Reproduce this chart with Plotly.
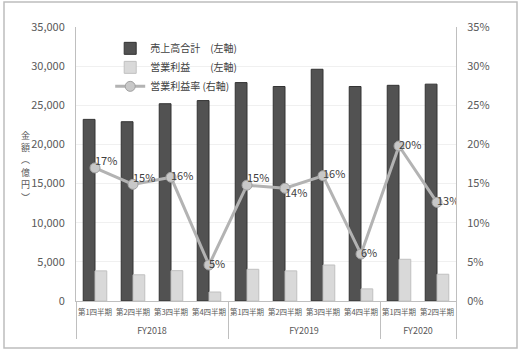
import plotly.graph_objects as go

fiscal_years = ["FY2018"] * 4 + ["FY2019"] * 4 + ["FY2020"] * 2
quarters = ["第1四半期", "第2四半期", "第3四半期", "第4四半期",
            "第1四半期", "第2四半期", "第3四半期", "第4四半期",
            "第1四半期", "第2四半期"]
sales = [23200, 22900, 25200, 25600, 27900, 27400, 29600, 27400, 27550, 27700]
op_profit = [3850, 3350, 3880, 1150, 4050, 3850, 4600, 1550, 5330, 3420]
op_margin = [17.0, 14.9, 15.8, 4.6, 14.8, 14.4, 16.0, 6.0, 19.8, 12.6]
margin_labels = ["17%", "15%", "16%", "5%", "15%", "14%", "16%", "6%", "20%", "13%"]
label_pos = ["top right", "top right", "middle right", "middle right", "top right",
             "bottom right", "middle right", "middle right", "middle right", "middle right"]
left_ticks = [0, 5000, 10000, 15000, 20000, 25000, 30000, 35000]
right_ticks = [0, 5, 10, 15, 20, 25, 30, 35]
right_tick_labels = ["0%", "5%", "10%", "15%", "20%", "25%", "30%", "35%"]
y_title_chars = ["金", "額", "︵", "億", "円", "︶"]

# category positions and fiscal-year groups
pos = list(range(len(quarters)))
groups = []
for i, fy in enumerate(fiscal_years):
    if not groups or groups[-1][0] != fy:
        groups.append([fy, i, i])
    else:
        groups[-1][2] = i
group_names = [g[0] for g in groups]
group_centers = [(g[1] + g[2]) / 2 for g in groups]
group_bounds = [groups[0][1] - 0.5] + [g[2] + 0.5 for g in groups]
xrange_ = [-0.5, len(quarters) - 0.5]

font_family = "Noto Sans CJK JP, Noto Sans, sans-serif"

fig = go.Figure()
fig.add_trace(go.Bar(
    x=pos, y=sales, name="売上高合計　(左軸)",
    marker=dict(color="#525252", line=dict(color="#333333", width=1)),
))
fig.add_trace(go.Bar(
    x=pos, y=op_profit, name="営業利益　　(左軸)",
    marker=dict(color="#d9d9d9", line=dict(color="#c0c0c0", width=1)),
))
fig.add_trace(go.Scatter(
    x=pos, y=op_margin, name="営業利益率 (右軸)", yaxis="y2",
    mode="lines+markers",
    line=dict(color="#b3b3b3", width=3),
    marker=dict(size=10, color="#c8c8c8", line=dict(color="#a0a0a0", width=1)),
))
fig.add_trace(go.Scatter(
    x=pos, y=op_margin, yaxis="y2", mode="text", showlegend=False,
    text=margin_labels, textposition=label_pos,
    textfont=dict(size=11, color="#404040", family=font_family),
    hoverinfo="skip",
))
# helper invisible traces so the extra x axes are drawn
fig.add_trace(go.Scatter(x=[None], y=[None], xaxis="x2", showlegend=False, hoverinfo="skip"))
fig.add_trace(go.Scatter(x=[None], y=[None], xaxis="x3", showlegend=False, hoverinfo="skip"))

annotations = []
for i, ch in enumerate(y_title_chars):
    annotations.append(dict(
        text=ch, xref="paper", yref="paper",
        x=(25 - 76) / 380, y=(301 - (135 + 12.4 * i)) / 274,
        xanchor="center", yanchor="middle", showarrow=False,
        font=dict(size=9, color="#595959"),
    ))

fig.update_layout(
    width=520, height=351,
    margin=dict(l=76, r=64, t=27, b=50),
    paper_bgcolor="white", plot_bgcolor="white",
    font=dict(family=font_family, color="#595959", size=11),
    barmode="group", bargap=0.38, bargroupgap=0.0,
    showlegend=True,
    legend=dict(x=0.09, y=0.975, xanchor="left", yanchor="top",
                bgcolor="rgba(0,0,0,0)", font=dict(size=10, color="#404040"),
                tracegroupgap=2),
    xaxis=dict(
        range=xrange_, tickvals=pos, ticktext=quarters, tickangle=0,
        automargin=False, showline=True, linecolor="#bfbfbf", linewidth=1,
        showgrid=False, zeroline=False, ticks="",
        tickfont=dict(size=7.5, color="#595959"), ticklabelstandoff=4,
    ),
    xaxis2=dict(
        range=xrange_, overlaying="x", anchor="y", side="bottom",
        tickvals=group_centers, ticktext=group_names, tickangle=0,
        automargin=False, showline=False, showgrid=False, zeroline=False,
        ticks="", tickfont=dict(size=9, color="#595959"), ticklabelstandoff=23,
    ),
    xaxis3=dict(
        range=xrange_, overlaying="x", anchor="y", side="bottom",
        tickvals=group_bounds, ticktext=[""] * len(group_bounds),
        automargin=False, showline=False, showgrid=False, zeroline=False,
        ticks="outside", ticklen=37, tickwidth=1, tickcolor="#bfbfbf",
    ),
    yaxis=dict(
        range=[0, 35000], tickvals=left_ticks, tickformat=",",
        showline=True, linecolor="#bfbfbf", linewidth=1,
        showgrid=True, gridcolor="#f0f0f0", gridwidth=1,
        zeroline=False, ticks="", tickfont=dict(size=11, color="#595959"),
        ticklabelstandoff=8, automargin=False,
    ),
    yaxis2=dict(
        range=[0, 35], tickvals=right_ticks, ticktext=right_tick_labels,
        overlaying="y", side="right",
        showline=True, linecolor="#bfbfbf", linewidth=1,
        showgrid=False, zeroline=False, ticks="",
        tickfont=dict(size=11, color="#595959"),
        ticklabelstandoff=8, automargin=False,
    ),
    shapes=[dict(type="rect", xref="paper", yref="paper",
                 x0=-72 / 380, x1=(517 - 76) / 380,
                 y0=-(348 - 301) / 274, y1=(301 - 2) / 274,
                 line=dict(color="#bdbdbd", width=1.5), fillcolor="rgba(0,0,0,0)")],
    annotations=annotations,
)

fig.write_html("out.html")
